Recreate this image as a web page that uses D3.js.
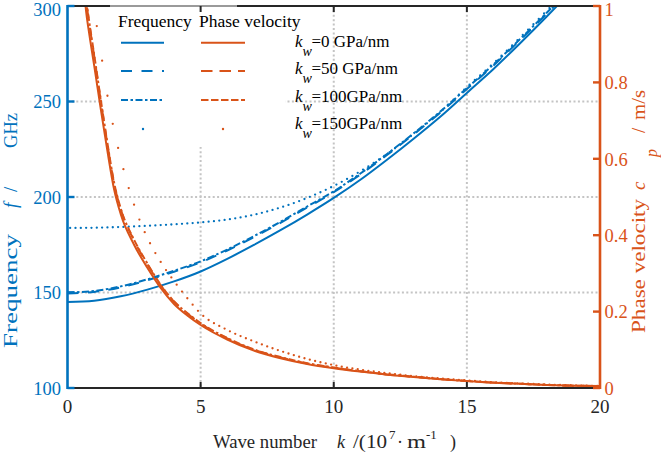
<!DOCTYPE html>
<html><head><meta charset="utf-8">
<script src="https://cdn.jsdelivr.net/npm/d3@7"></script>
<style>html,body{margin:0;padding:0;background:#fff;} svg{display:block;font-family:"Liberation Serif","Times New Roman",serif;}</style>
</head><body><svg id="c" width="661" height="452"></svg>
<script>
// ---------- data ----------
const kF = [0,1,2,3,4,5,6,7,8,9,10,11,12,13,14,15,16,17,18,19,20];
const freqKw0   = [145,145.7,148,151.5,155.8,161,167.6,174.9,182.6,190.8,199.5,209,219.5,230.5,242,254.5,267,280.5,294.5,309,324];
const freqKw50  = [149.5,150.3,152.7,156.4,160.9,165.8,172,179,186.5,194.5,202.5,211.8,222,232.8,244.2,256.5,268.9,282.2,296,310.5,325.4];
const freqKw100 = [150,150.8,153.2,156.9,161.4,166.3,172.5,179.5,187,195,203,212.3,222.5,233.3,244.7,257,269.4,282.7,296.5,311,326];
const freqKw150 = [183.8,183.9,184.3,184.9,185.7,186.7,188.2,190.7,194.5,199.5,205.8,213.5,222.5,233,244.5,257.5,270,283.5,297.5,312,327];

const kP = [0.65,0.7,0.8,1,1.25,1.5,1.75,2,2.5,3,3.5,4,4.5,5,6,7,8,9,10,11,12,13,14,15,16,17,18,19,20];
const cpKw0   = [1.02,0.985,0.935,0.845,0.73,0.62,0.52,0.455,0.375,0.315,0.262,0.22,0.19,0.165,0.127,0.098,0.078,0.063,0.052,0.043,0.035,0.029,0.023,0.018,0.014,0.011,0.008,0.006,0.005];
const cpKw50  = [1.05,1.015,0.963,0.87,0.752,0.638,0.535,0.468,0.386,0.324,0.269,0.226,0.195,0.169,0.130,0.100,0.080,0.064,0.053,0.0437,0.0355,0.0294,0.0233,0.0182,0.0141,0.0111,0.0081,0.0061,0.005];
const cpKw100 = [1.055,1.02,0.967,0.874,0.755,0.641,0.538,0.47,0.388,0.326,0.27,0.227,0.196,0.17,0.131,0.101,0.081,0.065,0.054,0.044,0.036,0.0296,0.0234,0.0183,0.0142,0.0111,0.0081,0.0061,0.005];
const kP150 = [0.95,1,1.25,1.5,1.75,2,2.25,2.5,2.75,3,3.5,4,4.5,5,6,7,8,9,10,11,12,13,14,15,16,17,18,19,20];
const cpKw150 = [1.01,0.99,0.88,0.765,0.675,0.60,0.535,0.48,0.432,0.393,0.33,0.28,0.235,0.195,0.152,0.122,0.097,0.076,0.06,0.048,0.039,0.031,0.025,0.02,0.015,0.012,0.009,0.007,0.005];

const xTicks = [0,5,10,15,20];
const yLeftTicks = [100,150,200,250,300];
const yRightTicks = [0,0.2,0.4,0.6,0.8,1];
const legendHeads = ["Frequency","Phase velocity"];
const kwLabels = ["=0 GPa/nm","=50 GPa/nm","=100GPa/nm","=150GPa/nm"];
const styles = ["solid","dash","dashdot","dot"];

// ---------- layout ----------
const BLUE = "#0072BD", ORANGE = "#D95319", DARK = "#262626";
const L = 67.5, R = 600, T = 6, B = 388;
const svg = d3.select("#c");
const x = d3.scaleLinear().domain([0,20]).range([L,R]);
const yL = d3.scaleLinear().domain([100,300]).range([B,T]);
const yR = d3.scaleLinear().domain([0,1]).range([B,T]);

svg.append("defs").append("clipPath").attr("id","clip")
  .append("rect").attr("x",L).attr("y",T).attr("width",R-L).attr("height",B-T);

// grid
const grid = svg.append("g").attr("stroke","#c4c4c4").attr("stroke-width",2).attr("stroke-dasharray","2,2.4");
grid.selectAll("line.v").data(xTicks.slice(1,-1)).join("line")
  .attr("x1",d=>x(d)).attr("x2",d=>x(d)).attr("y1",T).attr("y2",B);
grid.selectAll("line.h").data(yLeftTicks.slice(1,-1)).join("line")
  .attr("x1",L).attr("x2",R).attr("y1",d=>yL(d)).attr("y2",d=>yL(d));

// legend background
svg.append("rect").attr("x",103).attr("y",7).attr("width",182).attr("height",140).attr("fill","#fff");

const dash = {solid:null, dash:"11,9.5", dashdot:"7,2.5,2.5,2.5", dot:null};
const plot = svg.append("g").attr("clip-path","url(#clip)");

function drawSeries(ks, vs, yScale, color, style){
  const line = d3.line().x(d=>x(d[0])).y(d=>yScale(d[1])).curve(d3.curveMonotoneX);
  const data = ks.map((k,i)=>[k,vs[i]]);
  const p = plot.append("path").attr("d",line(data)).attr("fill","none");
  if (style === "dot") {
    p.attr("stroke","none");
    const node = p.node();
    const len = node.getTotalLength();
    const x0 = node.getPointAtLength(0).x, x1 = node.getPointAtLength(len).x;
    const targets = d3.range(0.1, 20, 0.2).map(k=>x(k)).filter(t=>t>=x0 && t<=x1);
    const pts = [];
    for (const tx of targets){
      let lo=0, hi=len;
      for (let i=0;i<28;i++){ const m=(lo+hi)/2; if (node.getPointAtLength(m).x < tx) lo=m; else hi=m; }
      const pt = node.getPointAtLength((lo+hi)/2);
      if (pt.y>=T-1 && pt.y<=B+1) pts.push(pt);
    }
    plot.append("g").selectAll("circle").data(pts).join("circle")
      .attr("cx",d=>d.x).attr("cy",d=>d.y).attr("r",1.15).attr("fill",color);
  } else {
    p.attr("stroke",color).attr("stroke-width",2).attr("stroke-linejoin","round");
    if (dash[style]) p.attr("stroke-dasharray",dash[style]);
  }
}
// frequency (left axis)
drawSeries(kF, freqKw0, yL, BLUE, "solid");
drawSeries(kF, freqKw50, yL, BLUE, "dash");
drawSeries(kF, freqKw100, yL, BLUE, "dashdot");
drawSeries(kF, freqKw150, yL, BLUE, "dot");
// phase velocity (right axis)
drawSeries(kP, cpKw0, yR, ORANGE, "solid");
drawSeries(kP, cpKw50, yR, ORANGE, "dash");
drawSeries(kP, cpKw100, yR, ORANGE, "dashdot");
drawSeries(kP150, cpKw150, yR, ORANGE, "dot");

// axes frame
svg.append("line").attr("x1",L).attr("x2",R).attr("y1",T).attr("y2",T).attr("stroke",DARK).attr("stroke-width",2);
svg.append("line").attr("x1",110).attr("x2",237).attr("y1",T).attr("y2",T).attr("stroke","#9a9a9a").attr("stroke-width",2);
svg.append("line").attr("x1",L).attr("x2",R).attr("y1",B).attr("y2",B).attr("stroke",DARK).attr("stroke-width",2);
// x ticks (bottom & top, inward)
const xt = svg.append("g").attr("stroke",DARK).attr("stroke-width",2);
xt.selectAll("line.b").data(xTicks.slice(1,-1)).join("line").attr("class","b")
  .attr("x1",d=>x(d)).attr("x2",d=>x(d)).attr("y1",B).attr("y2",B-6);
xt.selectAll("line.t").data(xTicks.slice(1,-1)).join("line").attr("class","t")
  .attr("x1",d=>x(d)).attr("x2",d=>x(d)).attr("y1",T).attr("y2",T+6);
svg.append("g").selectAll("text").data(xTicks).join("text")
  .attr("x",d=>x(d)).attr("y",413).attr("text-anchor","middle").attr("font-size",19).attr("fill",DARK).text(d=>d);

// left axis
svg.append("line").attr("x1",L).attr("x2",L).attr("y1",T-1).attr("y2",B+1).attr("stroke",BLUE).attr("stroke-width",2.6);
svg.append("g").selectAll("line").data(yLeftTicks).join("line")
  .attr("x1",L).attr("x2",L+7).attr("y1",d=>yL(d)).attr("y2",d=>yL(d)).attr("stroke",BLUE).attr("stroke-width",2.4);
svg.append("g").selectAll("text").data(yLeftTicks).join("text")
  .attr("x",61).attr("y",d=>Math.max(yL(d)+6.7,15.5)).attr("text-anchor","end").attr("font-size",18.5).attr("fill",BLUE).text(d=>d);

// right axis
svg.append("line").attr("x1",R).attr("x2",R).attr("y1",T-1).attr("y2",B+1).attr("stroke",ORANGE).attr("stroke-width",2.6);
svg.append("g").selectAll("line").data(yRightTicks).join("line")
  .attr("x1",R).attr("x2",R-7).attr("y1",d=>yR(d)).attr("y2",d=>yR(d)).attr("stroke",ORANGE).attr("stroke-width",2.4);
svg.append("g").selectAll("text").data(yRightTicks).join("text")
  .attr("x",604.5).attr("y",d=>Math.max(yR(d)+6.7,15.5)).attr("text-anchor","start").attr("font-size",18.5).attr("fill",ORANGE).text(d=>d3.format("~g")(d));

// axis labels
function piece(g, txt, lx, ly, opts={}){
  const t = g.append("text").attr("x",lx).attr("y",ly).text(txt)
    .attr("font-size",opts.size||19);
  if (opts.italic) t.attr("font-style","italic");
  if (opts.len) t.attr("textLength",opts.len).attr("lengthAdjust","spacingAndGlyphs");
  return t;
}
const ll = svg.append("g").attr("transform","translate(17,348) rotate(-90)").attr("fill",BLUE);
piece(ll,"Frequency",0,0,{len:114});
piece(ll,"f",140,0,{italic:true});
piece(ll,"/",156,0);
piece(ll,"GHz",200,0,{len:35});

const rl = svg.append("g").attr("transform","translate(645,333) rotate(-90)").attr("fill",ORANGE);
piece(rl,"Phase velocity",0,0,{len:134});
piece(rl,"c",143,0,{italic:true});
piece(rl,"p",176,12,{italic:true,size:16});
piece(rl,"/",200,0);
piece(rl,"m/s",213,0,{len:30});

const bl = svg.append("g").attr("fill",DARK);
piece(bl,"Wave number",213,448,{size:18,len:104});
piece(bl,"k",337,448,{size:18,italic:true});
piece(bl,"/(10",353,448,{size:18,len:34});
piece(bl,"7",389,439,{size:13});
piece(bl,"·",397,448,{size:18});
piece(bl,"m",407,448,{size:18,len:19});
piece(bl,"-1",426,439,{size:13});
piece(bl,")",450,448,{size:18});

// legend
const lg = svg.append("g");
lg.append("text").attr("x",118).attr("y",27).attr("font-size",17.5).attr("fill","#000").text(legendHeads[0]);
lg.append("text").attr("x",199).attr("y",27).attr("font-size",17.5).attr("fill","#000").text(legendHeads[1]);
const rowsY = [42.7,71,100,129];
const legDashBlue = {solid:null, dash:"11,9.5", dashdot:"7,2.5,2.5,2.5"};
const legDashOrange = {solid:null, dash:"11.5,7", dashdot:"7.5,2.5"};
styles.forEach((s,i)=>{
  const yy = rowsY[i];
  if (s === "dot"){
    lg.append("circle").attr("cx",143).attr("cy",yy).attr("r",1.2).attr("fill",BLUE);
    lg.append("circle").attr("cx",223).attr("cy",yy).attr("r",1.2).attr("fill",ORANGE);
  } else {
    const a = lg.append("line").attr("x1",121).attr("x2",164).attr("y1",yy).attr("y2",yy).attr("stroke",BLUE).attr("stroke-width",2);
    if (legDashBlue[s]) a.attr("stroke-dasharray",legDashBlue[s]);
    const b = lg.append("line").attr("x1",201).attr("x2",245).attr("y1",yy).attr("y2",yy).attr("stroke",ORANGE).attr("stroke-width",2);
    if (legDashOrange[s]) b.attr("stroke-dasharray",legDashOrange[s]);
  }
});
const kwBase = [46.7,74.2,101.7,129.3];
kwLabels.forEach((lab,i)=>{
  const yy = kwBase[i];
  lg.append("text").attr("x",295).attr("y",yy).attr("font-size",17).attr("font-style","italic").text("k");
  lg.append("text").attr("x",302.5).attr("y",yy+9).attr("font-size",14).attr("font-style","italic").text("w");
  lg.append("text").attr("x",311.5).attr("y",yy).attr("font-size",17).text(lab);
});
</script></body></html>
